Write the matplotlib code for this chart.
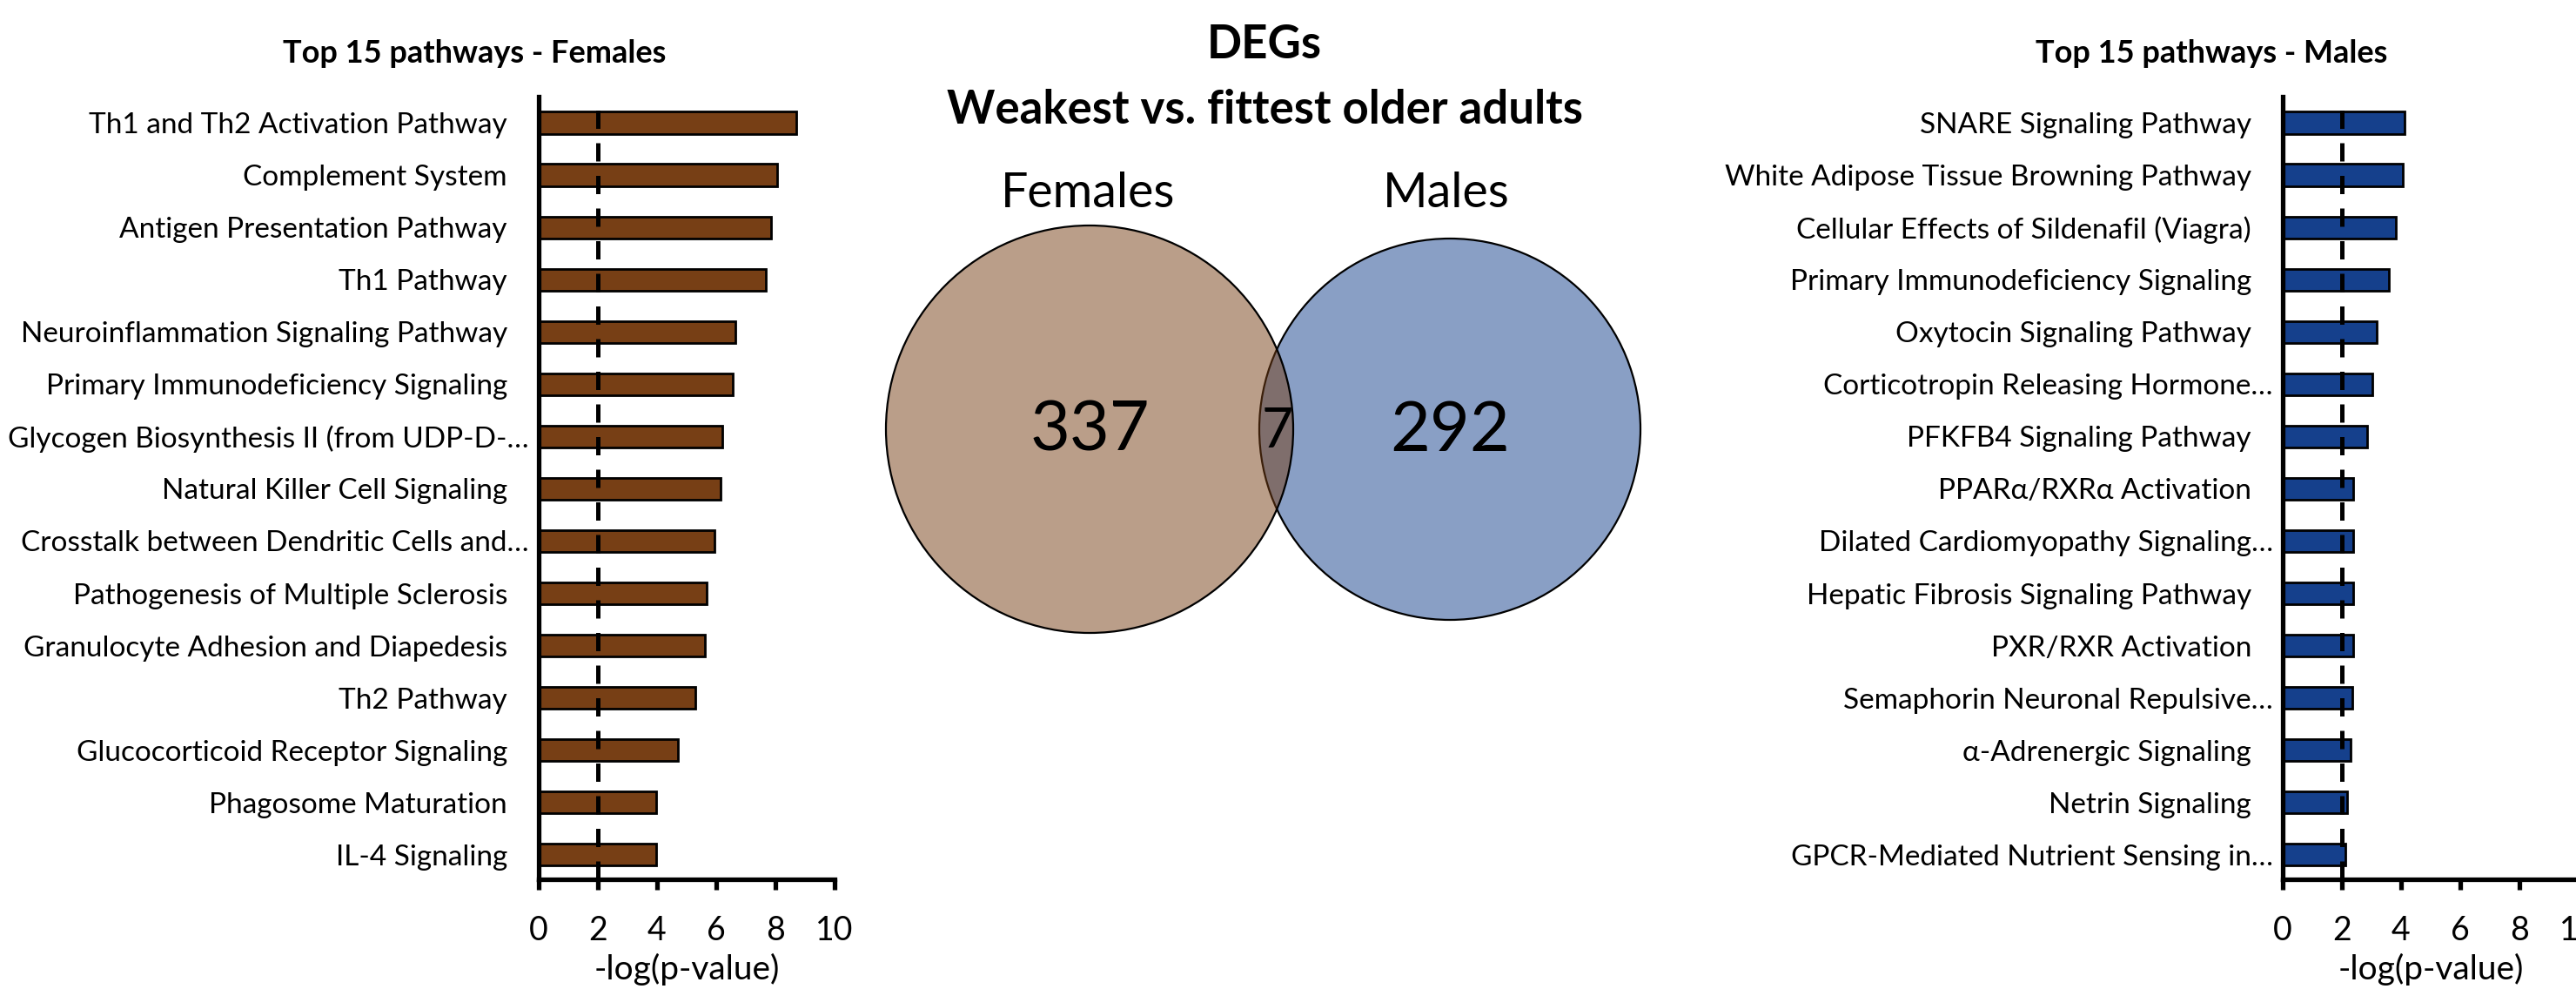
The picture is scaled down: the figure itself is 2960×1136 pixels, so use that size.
import matplotlib
matplotlib.use("Agg")
import matplotlib.pyplot as plt
from matplotlib.patches import Circle
from matplotlib.colors import to_rgba
from matplotlib.transforms import ScaledTranslation
import numpy as np

plt.rcParams['font.family'] = ['Lato', 'DejaVu Sans']

# female pathways, -log(p)
fem_paths = ["Th1 and Th2 Activation Pathway", "Complement System", "Antigen Presentation Pathway",
             "Th1 Pathway", "Neuroinflammation Signaling Pathway", "Primary Immunodeficiency Signaling",
             "Glycogen Biosynthesis II (from UDP-D-\u2026", "Natural Killer Cell Signaling",
             "Crosstalk between Dendritic Cells and\u2026", "Pathogenesis of Multiple Sclerosis",
             "Granulocyte Adhesion and Diapedesis", "Th2 Pathway", "Glucocorticoid Receptor Signaling",
             "Phagosome Maturation", "IL-4 Signaling"]
fem_vals = [8.72, 8.06, 7.85, 7.68, 6.65, 6.56, 6.21, 6.14, 5.94, 5.67, 5.62, 5.30, 4.72, 3.97, 3.97]

# male pathways, -log(p)
male_paths = ["SNARE Signaling Pathway", "White Adipose Tissue Browning Pathway",
              "Cellular Effects of Sildenafil (Viagra)", "Primary Immunodeficiency Signaling",
              "Oxytocin Signaling Pathway", "Corticotropin Releasing Hormone\u2026",
              "PFKFB4 Signaling Pathway", "PPAR\u03b1/RXR\u03b1 Activation",
              "Dilated Cardiomyopathy Signaling\u2026", "Hepatic Fibrosis Signaling Pathway",
              "PXR/RXR Activation", "Semaphorin Neuronal Repulsive\u2026", "\u03b1-Adrenergic Signaling",
              "Netrin Signaling", "GPCR-Mediated Nutrient Sensing in\u2026"]
male_vals = [4.12, 4.06, 3.83, 3.58, 3.17, 3.04, 2.85, 2.38, 2.38, 2.37, 2.37, 2.35, 2.29, 2.19, 2.13]

# venn counts
venn_labels = ["Females", "Males"]
only_fem = 337
only_male = 292
shared = 7

xticks = [0, 2, 4, 6, 8, 10]
cutoff = 2

brown = "#773F15"
blue = "#15408C"

W, H = 2960, 1136
fig = plt.figure(figsize=(W / 100, H / 100), dpi=100)


def bar_panel(rect, paths, vals, color, title, title_x):
    ax = fig.add_axes(rect)
    y = np.arange(len(paths))
    ax.barh(y, vals, height=0.42, color=color, edgecolor="black", linewidth=2, zorder=2)
    # significance cutoff
    ax.axvline(cutoff, color="black", lw=3.6, dashes=(4.2, 3.3), zorder=3)
    ax.set_xlim(0, 10)
    ax.set_ylim(len(paths) - 0.53, -0.5)
    ax.set_xticks(xticks)
    ax.set_xticklabels([str(t) for t in xticks], fontsize=27)
    ax.set_yticks(y)
    ax.set_yticklabels(paths, fontsize=24)
    ax.tick_params(axis="y", length=0, pad=26)
    ax.tick_params(axis="x", length=8.5, width=3.8, pad=21, direction="out")
    # truncated names sit closer to the axis
    for lab, txt in zip(ax.get_yticklabels(), paths):
        if txt.endswith("\u2026"):
            lab.set_transform(lab.get_transform() + ScaledTranslation(0.25, 0, fig.dpi_scale_trans))
    for s in ["top", "right"]:
        ax.spines[s].set_visible(False)
    ax.spines["left"].set_linewidth(3.8)
    ax.spines["bottom"].set_linewidth(3.8)
    ax.set_xlabel("-log(p-value)", fontsize=28, labelpad=6)
    fig.text(title_x / W, 1 - 62 / H, title, fontsize=26, fontweight="bold", ha="center", va="center")
    return ax


bar_panel([619 / W, 1 - 1010 / H, 340 / W, (1010 - 111) / H], fem_paths, fem_vals, brown,
          "Top 15 pathways - Females", 545)
bar_panel([2623 / W, 1 - 1010 / H, 340 / W, (1010 - 111) / H], male_paths, male_vals, blue,
          "Top 15 pathways - Males", 2541)

# venn diagram in pixel coordinates
av = fig.add_axes([0, 0, 1, 1], zorder=-1)
av.set_xlim(0, W)
av.set_ylim(H, 0)
av.axis("off")
av.add_patch(Circle((1666, 493), 219, facecolor=to_rgba(blue, 0.5), edgecolor="black", lw=1.6))
av.add_patch(Circle((1252, 493), 234, facecolor=to_rgba(brown, 0.5), edgecolor="black", lw=1.6))
av.text(1252, 496, str(only_fem), fontsize=57, ha="center", va="center")
av.text(1666, 496, str(only_male), fontsize=57, ha="center", va="center")
av.text(1468, 496, str(shared), fontsize=45, ha="center", va="center")
av.text(1250, 238, venn_labels[0], fontsize=40, ha="center", va="baseline")
av.text(1662, 238, venn_labels[1], fontsize=40, ha="center", va="baseline")
av.text(1453, 67, "DEGs", fontsize=38, fontweight="bold", ha="center", va="baseline")
av.text(1453, 142, "Weakest vs. fittest older adults", fontsize=38, fontweight="bold",
        ha="center", va="baseline")

fig.savefig("out.png", dpi=100, facecolor="white")
